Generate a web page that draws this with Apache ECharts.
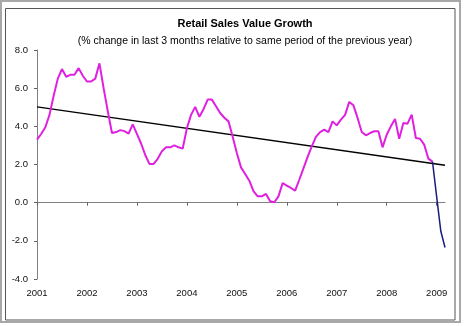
<!DOCTYPE html>
<html>
<head>
<meta charset="utf-8">
<script src="https://cdn.jsdelivr.net/npm/echarts@6/dist/echarts.min.js"></script>
<style>
  html, body { margin: 0; padding: 0; background: #fff; }
  #chart { width: 464px; height: 326px; }
</style>
</head>
<body>
<div id="chart"></div>
<script>
// Year labels on the time axis (one label per January)
const years = ['2001', '2002', '2003', '2004', '2005', '2006', '2007', '2008', '2009'];
const monthNames = ['Jan', 'Feb', 'Mar', 'Apr', 'May', 'Jun', 'Jul', 'Aug', 'Sep', 'Oct', 'Nov', 'Dec'];

// Monthly growth, Jan 2001 - Dec 2008 (%)
const salesGrowth = [
  3.3, 3.6, 3.95, 4.6, 5.6, 6.5, 7.0, 6.6, 6.7, 6.7, 7.05, 6.65,
  6.35, 6.35, 6.5, 7.3, 6.0, 4.8, 3.65, 3.7, 3.8, 3.75, 3.62, 4.1,
  3.6, 3.1, 2.5, 2.03, 2.03, 2.3, 2.7, 2.9, 2.9, 3.0, 2.9, 2.83,
  3.9, 4.6, 5.02, 4.5, 4.9, 5.4, 5.4, 5.05, 4.7, 4.45, 4.26, 3.45,
  2.6, 1.85, 1.5, 1.15, 0.6, 0.33, 0.33, 0.46, 0.07, 0.02, 0.33, 1.03,
  0.89, 0.77, 0.63, 1.2, 1.8, 2.4, 2.95, 3.45, 3.7, 3.83, 3.7, 4.26,
  4.05, 4.35, 4.6, 5.28, 5.1, 4.44, 3.7, 3.53, 3.65, 3.74, 3.74, 2.9,
  3.56, 4.0, 4.39, 3.35, 4.18, 4.14, 4.61, 3.39, 3.35, 3.04, 2.31, 2.15
];

// Latest readings, Dec 2008 - Mar 2009 (%)
const latestGrowth = [2.15, 0.3, -1.5, -2.35];

// Linear trend: value at first and last month
const trendEnds = [5.02, 1.96];

// Value-axis tick range
const yMin = -4, yMax = 8, yStep = 2;

// Build the month categories Jan 2001 .. Mar 2009
const months = [];
years.forEach(function (y) {
  monthNames.forEach(function (m) { months.push(m + ' ' + y); });
});
const totalMonths = salesGrowth.length + latestGrowth.length - 1;
months.length = totalMonths;

const pinkData = months.map(function (_, i) { return i < salesGrowth.length ? salesGrowth[i] : null; });
const latestStart = salesGrowth.length - 1;
const navyData = months.map(function (_, i) { return i >= latestStart ? latestGrowth[i - latestStart] : null; });
const trendData = months.map(function (_, i) {
  if (i === 0) return trendEnds[0];
  if (i === totalMonths - 1) return trendEnds[1];
  return null;
});

const font = 'Liberation Sans, Arial, sans-serif';
const isYearStart = function (i) { return i % 12 === 0; };

const chart = echarts.init(document.getElementById('chart'), null, { renderer: 'canvas' });
chart.setOption({
  animation: false,
  backgroundColor: '#ffffff',
  graphic: [
    { type: 'rect', shape: { x: 1, y: 1, width: 459, height: 321 }, style: { fill: 'none', stroke: '#a8a8a8', lineWidth: 2 }, silent: true },
    { type: 'rect', shape: { x: 5.5, y: 8.5, width: 449.5, height: 311.5 }, style: { fill: 'none', stroke: '#555555', lineWidth: 1 }, silent: true },
    { type: 'text', x: 245, y: 24, style: { text: 'Retail Sales Value Growth', font: 'bold 11px ' + font, fill: '#000', textAlign: 'center', textVerticalAlign: 'middle' } },
    { type: 'text', x: 245, y: 41, style: { text: '(% change in last 3 months relative to same period of the previous year)', font: '10.5px ' + font, fill: '#000', textAlign: 'center', textVerticalAlign: 'middle' } }
  ],
  grid: { left: 37, right: 19, top: 50, bottom: 47, containLabel: false },
  xAxis: [
    {
      type: 'category',
      data: months,
      boundaryGap: false,
      position: 'bottom',
      axisLine: { onZero: true, lineStyle: { color: '#808080', width: 1 } },
      axisTick: { show: true, interval: isYearStart, length: 3, inside: false, lineStyle: { color: '#606060' } },
      axisLabel: { show: false },
      splitLine: { show: false }
    },
    {
      type: 'category',
      data: months,
      boundaryGap: false,
      position: 'bottom',
      axisLine: { show: false, onZero: false },
      axisTick: { show: false },
      axisLabel: {
        show: true,
        interval: isYearStart,
        margin: 9,
        color: '#111',
        fontFamily: font,
        fontSize: 9.5,
        formatter: function (v) { return v.split(' ')[1]; }
      },
      splitLine: { show: false }
    }
  ],
  yAxis: {
    type: 'value',
    min: yMin,
    max: yMax,
    interval: yStep,
    axisLine: { show: true, lineStyle: { color: '#808080', width: 1 } },
    axisTick: { show: true, length: 3, lineStyle: { color: '#606060' } },
    axisLabel: {
      margin: 9,
      color: '#111',
      fontFamily: font,
      fontSize: 9.5,
      formatter: function (v) { return v.toFixed(1); }
    },
    splitLine: { show: false }
  },
  series: [
    {
      name: 'Trend',
      type: 'line',
      data: trendData,
      connectNulls: true,
      showSymbol: false,
      symbol: 'none',
      lineStyle: { color: '#000000', width: 1.5 },
      z: 2
    },
    {
      name: 'Retail sales value growth',
      type: 'line',
      data: pinkData,
      showSymbol: false,
      symbol: 'none',
      lineStyle: { color: '#e020e0', width: 2 },
      z: 3
    },
    {
      name: 'Latest',
      type: 'line',
      data: navyData,
      showSymbol: false,
      symbol: 'none',
      lineStyle: { color: '#1c1c80', width: 1.5 },
      z: 4
    }
  ]
});
</script>
</body>
</html>
